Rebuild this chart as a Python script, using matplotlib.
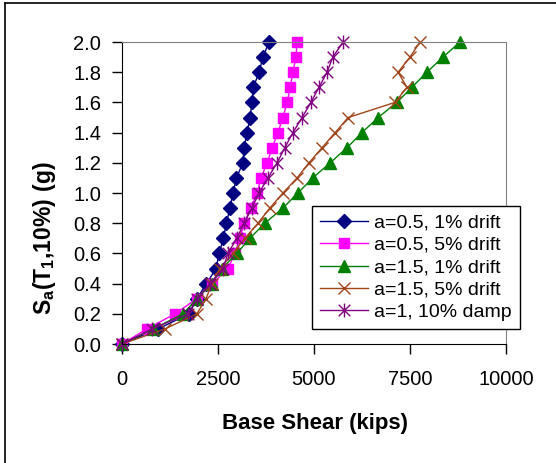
#!/usr/bin/env python3
"""Sa(T1,10%) vs base shear pushover-style curves, five cases."""
import numpy as np
import matplotlib
matplotlib.use("Agg")
import matplotlib.pyplot as plt
from matplotlib.path import Path
from matplotlib.lines import Line2D

plt.rcParams["font.family"] = ["Liberation Sans", "DejaVu Sans"]
plt.rcParams["mathtext.fontset"] = "custom"
plt.rcParams["mathtext.rm"] = "Liberation Sans"
plt.rcParams["mathtext.bf"] = "Liberation Sans:bold"

# ------------------------------------------------------------------ data
sa = [0.0, 0.1, 0.2, 0.3, 0.4, 0.5, 0.6, 0.7, 0.8, 0.9, 1.0,
      1.1, 1.2, 1.3, 1.4, 1.5, 1.6, 1.7, 1.8, 1.9, 2.0]

shear_a05_1 = [0, 940, 1750, 1950, 2200, 2450, 2530, 2640, 2720, 2810, 2890,
               2980, 3150, 3180, 3260, 3330, 3390, 3420, 3570, 3670, 3830]
shear_a05_5 = [0, 650, 1380, 1950, 2350, 2760, 2940, 3070, 3180, 3360, 3520,
               3620, 3780, 3910, 4060, 4190, 4300, 4380, 4450, 4530, 4560]
shear_a15_1 = [0, 810, 1590, 1950, 2340, 2600, 2990, 3330, 3720, 4190, 4580,
               4970, 5420, 5860, 6250, 6670, 7160, 7550, 7940, 8360, 8800]
shear_a15_5 = [0, 1120, 1950, 2190, 2340, 2550, 2890, 3200, 3540, 3850, 4190,
               4560, 4870, 5210, 5550, 5890, 7110, 7420, 7190, 7500, 7760]
shear_a1_damp = [0, 780, 1720, 1950, 2290, 2630, 2760, 2990, 3180, 3380, 3570,
                 3800, 4040, 4240, 4450, 4690, 4920, 5130, 5340, 5490, 5760]

labels = ["a=0.5, 1% drift", "a=0.5, 5% drift", "a=1.5, 1% drift",
          "a=1.5, 5% drift", "a=1, 10% damp"]

# asterisk marker: x plus vertical stroke
star = Path([(-0.5, -0.5), (0.5, 0.5), (-0.5, 0.5), (0.5, -0.5), (0, -0.6), (0, 0.6)],
            [Path.MOVETO, Path.LINETO, Path.MOVETO, Path.LINETO, Path.MOVETO, Path.LINETO])

series = [
    (shear_a05_1, "#000080", "D", 7, "#000080"),
    (shear_a05_5, "#FF00FF", "s", 7.5, "#FF00FF"),
    (shear_a15_1, "#008000", "^", 9, "#008000"),
    (shear_a15_5, "#A0441A", "x", 9, "none"),
    (shear_a1_damp, "#800080", star, 10, "none"),
]

# ------------------------------------------------------------------ figure
fig = plt.figure(figsize=(5.56, 4.63), dpi=100)
ax = fig.add_axes([122 / 556, 1 - 344 / 463, 384 / 556, 302 / 463])

for (x, c, m, ms, fc), lab in zip(series, labels):
    ax.plot(x, sa, color=c, lw=1, marker=m, ms=ms, mfc=fc, mec=c, mew=1,
            label=lab, clip_on=False)

ax.set_xlim(0, 10000)
ax.set_ylim(0, 2.0)
ax.set_xticks([0, 2500, 5000, 7500, 10000])
ax.set_yticks(np.arange(0, 2.01, 0.2))
ax.set_yticklabels([f"{v:.1f}" for v in np.arange(0, 2.01, 0.2)])
ax.tick_params(direction="out", length=7, width=1, labelsize=14.5, colors="black")
ax.tick_params(axis="y", pad=8)
ax.tick_params(axis="x", pad=12)
for s in ("top", "right"):
    ax.spines[s].set_color("#808080")
for s in ("left", "bottom"):
    ax.spines[s].set_color("black")

fig.text(315 / 556, 1 - 424 / 463, "Base Shear (kips)", ha="center", va="center",
         fontsize=16, fontweight="bold")
fig.text(45 / 556, 1 - 238 / 463, r"$\mathbf{S_a(T_1{,}10\%)\ (g)}$", ha="center",
         va="center", rotation=90, fontsize=16.5)

leg = ax.legend(loc="upper left", bbox_to_anchor=(312 / 556, 1 - 206 / 463),
                bbox_transform=fig.transFigure, borderaxespad=0, fontsize=14,
                frameon=True, fancybox=False, framealpha=1, edgecolor="black",
                handlelength=2.5, handletextpad=0.3, labelspacing=0.25,
                borderpad=0.4)
leg.get_frame().set_linewidth(1)

# outer chart border (top and left only visible)
fig.add_artist(Line2D([5 / 556, 1], [1 - 3 / 463] * 2, color="black", lw=1.2,
                      transform=fig.transFigure))
fig.add_artist(Line2D([5 / 556] * 2, [0, 1 - 3 / 463], color="black", lw=1.2,
                      transform=fig.transFigure))

fig.savefig("out.png", dpi=100)
